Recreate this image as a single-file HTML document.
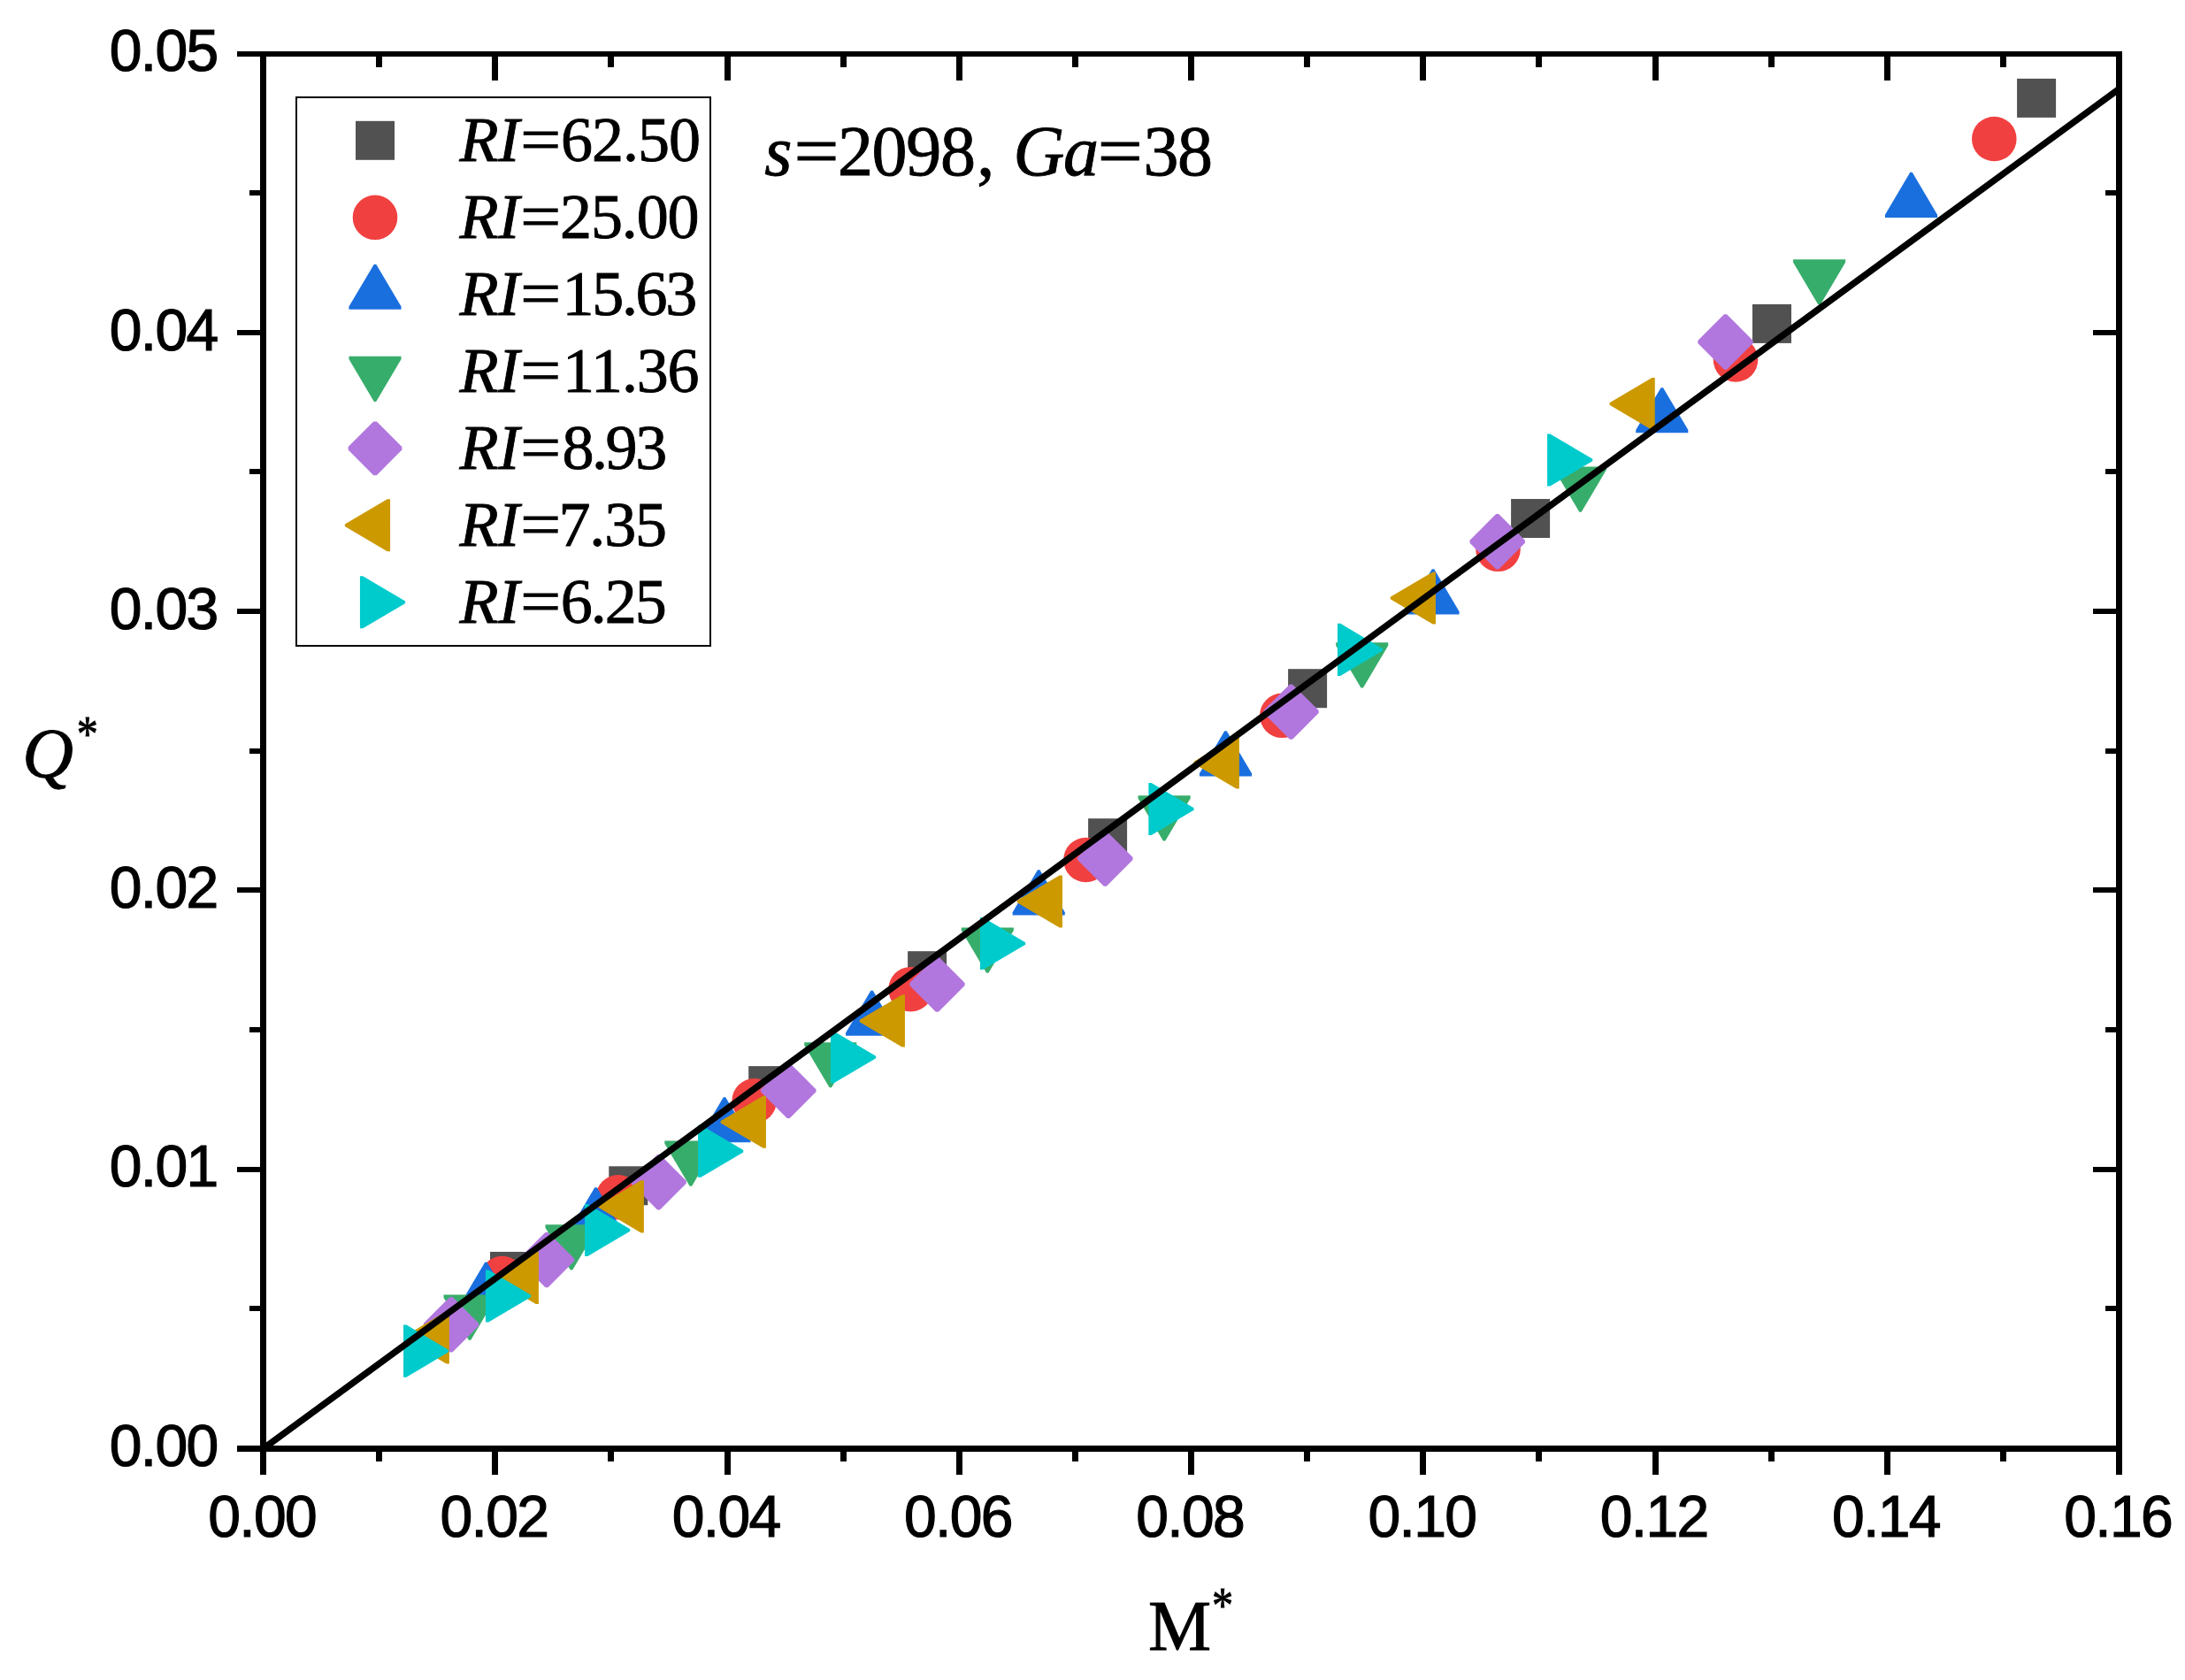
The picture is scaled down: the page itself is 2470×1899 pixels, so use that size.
<!DOCTYPE html>
<html lang="en"><head><meta charset="utf-8"><title>Q* versus M*</title>
<style>html,body{margin:0;padding:0;background:#fff}svg{display:block}.ax{font-family:"Liberation Sans",sans-serif;font-size:66px;fill:#000;letter-spacing:-1.7px;stroke:#000;stroke-width:1.2px}.se{font-family:"Liberation Serif",serif;fill:#000;stroke:#000;stroke-width:0.9px}.it{font-style:italic}</style></head><body>
<svg width="2470" height="1899" viewBox="0 0 2470 1899">
<rect width="2470" height="1899" fill="#fff"/>
<g shape-rendering="geometricPrecision">
<g><rect x="554" y="1415" width="44" height="44" fill="#515151"/><rect x="688.3" y="1318.3" width="44" height="44" fill="#515151"/><rect x="846.2" y="1205.1" width="44" height="44" fill="#515151"/><rect x="1026.1" y="1075.2" width="44" height="44" fill="#515151"/><rect x="1230.1" y="925.2" width="44" height="44" fill="#515151"/><rect x="1456.1" y="756.2" width="44" height="44" fill="#515151"/><rect x="1708.1" y="564" width="44" height="44" fill="#515151"/><rect x="1981" y="343.9" width="44" height="44" fill="#515151"/><rect x="2280.1" y="88.9" width="44" height="44" fill="#515151"/></g>
<g><circle cx="567.7" cy="1445.1" r="25.3" fill="#F14040"/><circle cx="698.8" cy="1353.3" r="25.3" fill="#F14040"/><circle cx="852.7" cy="1244.3" r="25.3" fill="#F14040"/><circle cx="1029.6" cy="1118.2" r="25.3" fill="#F14040"/><circle cx="1227.5" cy="972" r="25.3" fill="#F14040"/><circle cx="1449.4" cy="808.8" r="25.3" fill="#F14040"/><circle cx="1693.5" cy="620.8" r="25.3" fill="#F14040"/><circle cx="1962" cy="406.5" r="25.3" fill="#F14040"/><circle cx="2254.3" cy="157" r="25.3" fill="#F14040"/></g>
<g><polygon points="519.85,1478.05 519.85,1474.75 548.2,1426.85 550.6,1426.85 578.95,1474.75 578.95,1478.05" fill="#1A6FDF"/><polygon points="643.95,1393.45 643.95,1390.15 672.3,1342.25 674.7,1342.25 703.05,1390.15 703.05,1393.45" fill="#1A6FDF"/><polygon points="789.45,1291.35 789.45,1288.05 817.8,1240.15 820.2,1240.15 848.55,1288.05 848.55,1291.35" fill="#1A6FDF"/><polygon points="956.05,1170.85 956.05,1167.55 984.4,1119.65 986.8,1119.65 1015.15,1167.55 1015.15,1170.85" fill="#1A6FDF"/><polygon points="1144.65,1034.45 1144.65,1031.15 1173,983.25 1175.4,983.25 1203.75,1031.15 1203.75,1034.45" fill="#1A6FDF"/><polygon points="1355.95,877.55 1355.95,874.25 1384.3,826.35 1386.7,826.35 1415.05,874.25 1415.05,877.55" fill="#1A6FDF"/><polygon points="1590.45,694.55 1590.45,691.25 1618.8,643.35 1621.2,643.35 1649.55,691.25 1649.55,694.55" fill="#1A6FDF"/><polygon points="1849.25,489.35 1849.25,486.05 1877.6,438.15 1880,438.15 1908.35,486.05 1908.35,489.35" fill="#1A6FDF"/><polygon points="2130.95,245.95 2130.95,242.65 2159.3,194.75 2161.7,194.75 2190.05,242.65 2190.05,245.95" fill="#1A6FDF"/></g>
<g><polygon points="560.6,1463.45 560.6,1466.75 532.25,1514.65 529.85,1514.65 501.5,1466.75 501.5,1463.45" fill="#37AD6B"/><polygon points="675.55,1384.35 675.55,1387.65 647.2,1435.55 644.8,1435.55 616.45,1387.65 616.45,1384.35" fill="#37AD6B"/><polygon points="810.45,1289.55 810.45,1292.85 782.1,1340.75 779.7,1340.75 751.35,1292.85 751.35,1289.55" fill="#37AD6B"/><polygon points="968.35,1178.15 968.35,1181.45 940,1229.35 937.6,1229.35 909.25,1181.45 909.25,1178.15" fill="#37AD6B"/><polygon points="1145.85,1048.45 1145.85,1051.75 1117.5,1099.65 1115.1,1099.65 1086.75,1051.75 1086.75,1048.45" fill="#37AD6B"/><polygon points="1345.65,899.25 1345.65,902.55 1317.3,950.45 1314.9,950.45 1286.55,902.55 1286.55,899.25" fill="#37AD6B"/><polygon points="1569.25,726.35 1569.25,729.65 1540.9,777.55 1538.5,777.55 1510.15,729.65 1510.15,726.35" fill="#37AD6B"/><polygon points="1816.05,527.45 1816.05,530.75 1787.7,578.65 1785.3,578.65 1756.95,530.75 1756.95,527.45" fill="#37AD6B"/><polygon points="2086.15,293.25 2086.15,296.55 2057.8,344.45 2055.4,344.45 2027.05,296.55 2027.05,293.25" fill="#37AD6B"/></g>
<g><polygon points="508.5,1466.1 511.5,1466.1 541.2,1495.8 541.2,1498.8 511.5,1528.5 508.5,1528.5 478.8,1498.8 478.8,1495.8" fill="#B177DE"/><polygon points="616.5,1392.9 619.5,1392.9 649.2,1422.6 649.2,1425.6 619.5,1455.3 616.5,1455.3 586.8,1425.6 586.8,1422.6" fill="#B177DE"/><polygon points="743.1,1305.1 746.1,1305.1 775.8,1334.8 775.8,1337.8 746.1,1367.5 743.1,1367.5 713.4,1337.8 713.4,1334.8" fill="#B177DE"/><polygon points="889.7,1201.5 892.7,1201.5 922.4,1231.2 922.4,1234.2 892.7,1263.9 889.7,1263.9 860,1234.2 860,1231.2" fill="#B177DE"/><polygon points="1057.9,1081.3 1060.9,1081.3 1090.6,1111 1090.6,1114 1060.9,1143.7 1057.9,1143.7 1028.2,1114 1028.2,1111" fill="#B177DE"/><polygon points="1247.8,939.4 1250.8,939.4 1280.5,969.1 1280.5,972.1 1250.8,1001.8 1247.8,1001.8 1218.1,972.1 1218.1,969.1" fill="#B177DE"/><polygon points="1458,773.4 1461,773.4 1490.7,803.1 1490.7,806.1 1461,835.8 1458,835.8 1428.3,806.1 1428.3,803.1" fill="#B177DE"/><polygon points="1691.2,581.1 1694.2,581.1 1723.9,610.8 1723.9,613.8 1694.2,643.5 1691.2,643.5 1661.5,613.8 1661.5,610.8" fill="#B177DE"/><polygon points="1949,355.3 1952,355.3 1981.7,385 1981.7,388 1952,417.7 1949,417.7 1919.3,388 1919.3,385" fill="#B177DE"/></g>
<g><polygon points="507.85,1541.45 504.55,1541.45 456.65,1513.1 456.65,1510.7 504.55,1482.35 507.85,1482.35" fill="#CC9900"/><polygon points="608.95,1474.05 605.65,1474.05 557.75,1445.7 557.75,1443.3 605.65,1414.95 608.95,1414.95" fill="#CC9900"/><polygon points="727.85,1393.45 724.55,1393.45 676.65,1365.1 676.65,1362.7 724.55,1334.35 727.85,1334.35" fill="#CC9900"/><polygon points="865.95,1297.85 862.65,1297.85 814.75,1269.5 814.75,1267.1 862.65,1238.75 865.95,1238.75" fill="#CC9900"/><polygon points="1022.95,1183.55 1019.65,1183.55 971.75,1155.2 971.75,1152.8 1019.65,1124.45 1022.95,1124.45" fill="#CC9900"/><polygon points="1200.95,1048.55 1197.65,1048.55 1149.75,1020.2 1149.75,1017.8 1197.65,989.45 1200.95,989.45" fill="#CC9900"/><polygon points="1400.85,891.55 1397.55,891.55 1349.65,863.2 1349.65,860.8 1397.55,832.45 1400.85,832.45" fill="#CC9900"/><polygon points="1622.95,705.55 1619.65,705.55 1571.75,677.2 1571.75,674.8 1619.65,646.45 1622.95,646.45" fill="#CC9900"/><polygon points="1870.75,486.05 1867.45,486.05 1819.55,457.7 1819.55,455.3 1867.45,426.95 1870.75,426.95" fill="#CC9900"/></g>
<g><polygon points="456.05,1497.55 459.35,1497.55 507.25,1525.9 507.25,1528.3 459.35,1556.65 456.05,1556.65" fill="#00CBCC"/><polygon points="548.95,1435.45 552.25,1435.45 600.15,1463.8 600.15,1466.2 552.25,1494.55 548.95,1494.55" fill="#00CBCC"/><polygon points="661.05,1360.95 664.35,1360.95 712.25,1389.3 712.25,1391.7 664.35,1420.05 661.05,1420.05" fill="#00CBCC"/><polygon points="789.05,1271.65 792.35,1271.65 840.25,1300 840.25,1302.4 792.35,1330.75 789.05,1330.75" fill="#00CBCC"/><polygon points="938.95,1165.45 942.25,1165.45 990.15,1193.8 990.15,1196.2 942.25,1224.55 938.95,1224.55" fill="#00CBCC"/><polygon points="1107.95,1036.95 1111.25,1036.95 1159.15,1065.3 1159.15,1067.7 1111.25,1096.05 1107.95,1096.05" fill="#00CBCC"/><polygon points="1298.35,884.95 1301.65,884.95 1349.55,913.3 1349.55,915.7 1301.65,944.05 1298.35,944.05" fill="#00CBCC"/><polygon points="1511.95,704.85 1515.25,704.85 1563.15,733.2 1563.15,735.6 1515.25,763.95 1511.95,763.95" fill="#00CBCC"/><polygon points="1749.05,490.45 1752.35,490.45 1800.25,518.8 1800.25,521.2 1752.35,549.55 1749.05,549.55" fill="#00CBCC"/></g>
</g>
<line x1="297.5" y1="1637.5" x2="2395.5" y2="100.5" stroke="#000" stroke-width="7.4"/>
<path d="M294 58H2399V64H294ZM294 1634H2399V1641H294ZM294 58H301V1667H294ZM2392 58H2399V1667H2392ZM425 1637H432V1652H425ZM425 61H432V76H425ZM556 1637H563V1667H556ZM556 61H563V91H556ZM687 1637H694V1652H687ZM687 61H694V76H687ZM819 1637H826V1667H819ZM819 61H826V91H819ZM950 1637H957V1652H950ZM950 61H957V76H950ZM1081 1637H1088V1667H1081ZM1081 61H1088V91H1081ZM1212 1637H1219V1652H1212ZM1212 61H1219V76H1212ZM1343 1637H1350V1667H1343ZM1343 61H1350V91H1343ZM1474 1637H1481V1652H1474ZM1474 61H1481V76H1474ZM1605 1637H1612V1667H1605ZM1605 61H1612V91H1605ZM1736 1637H1743V1652H1736ZM1736 61H1743V76H1736ZM1868 1637H1875V1667H1868ZM1868 61H1875V91H1868ZM1999 1637H2006V1652H1999ZM1999 61H2006V76H1999ZM2130 1637H2137V1667H2130ZM2130 61H2137V91H2130ZM2261 1637H2268V1652H2261ZM2261 61H2268V76H2261ZM268 1634H297.5V1641H268ZM2366 1634H2395.5V1641H2366ZM282 1476H297.5V1482H282ZM2380 1476H2395.5V1482H2380ZM268 1319H297.5V1325H268ZM2366 1319H2395.5V1325H2366ZM282 1161H297.5V1167H282ZM2380 1161H2395.5V1167H2380ZM268 1003H297.5V1009H268ZM2366 1003H2395.5V1009H2366ZM282 846H297.5V852H282ZM2380 846H2395.5V852H2380ZM268 688H297.5V694H268ZM2366 688H2395.5V694H2366ZM282 530H297.5V536H282ZM2380 530H2395.5V536H2380ZM268 373H297.5V379H268ZM2366 373H2395.5V379H2366ZM282 215H297.5V221H282ZM2380 215H2395.5V221H2380ZM268 58H297.5V64H268ZM2366 58H2395.5V64H2366Z" fill="#000"/>
<text class="ax" x="296.1" y="1737.2" text-anchor="middle">0.00</text>
<text class="ax" x="558.35" y="1737.2" text-anchor="middle">0.02</text>
<text class="ax" x="820.6" y="1737.2" text-anchor="middle">0.04</text>
<text class="ax" x="1082.85" y="1737.2" text-anchor="middle">0.06</text>
<text class="ax" x="1345.1" y="1737.2" text-anchor="middle">0.08</text>
<text class="ax" x="1607.35" y="1737.2" text-anchor="middle">0.10</text>
<text class="ax" x="1869.6" y="1737.2" text-anchor="middle">0.12</text>
<text class="ax" x="2131.85" y="1737.2" text-anchor="middle">0.14</text>
<text class="ax" x="2394.1" y="1737.2" text-anchor="middle">0.16</text>
<text class="ax" x="245.5" y="1656.7" text-anchor="end">0.00</text>
<text class="ax" x="245.5" y="1341.4" text-anchor="end">0.01</text>
<text class="ax" x="245.5" y="1026.1" text-anchor="end">0.02</text>
<text class="ax" x="245.5" y="710.8" text-anchor="end">0.03</text>
<text class="ax" x="245.5" y="395.5" text-anchor="end">0.04</text>
<text class="ax" x="245.5" y="80.2" text-anchor="end">0.05</text>
<rect x="335" y="110" width="468" height="620" fill="#fff" fill-opacity="0" stroke="#000" stroke-width="2"/>
<rect x="402" y="136.8" width="44" height="44" fill="#515151"/>
<text class="se it" x="519.4" y="182" font-size="72">RI</text>
<text class="se" transform="translate(588.3 182) scale(1.13 1)" font-size="72">=</text>
<text class="se" x="634.1" y="182" font-size="72" letter-spacing="-1.05">62.50</text>
<circle cx="424" cy="245.8" r="25.3" fill="#F14040"/>
<text class="se it" x="519.4" y="269" font-size="72">RI</text>
<text class="se" transform="translate(588.3 269) scale(1.13 1)" font-size="72">=</text>
<text class="se" x="633.1" y="269" font-size="72" letter-spacing="-1.15">25.00</text>
<polygon points="394.45,349.85 394.45,346.55 422.8,298.65 425.2,298.65 453.55,346.55 453.55,349.85" fill="#1A6FDF"/>
<text class="se it" x="519.4" y="356" font-size="72">RI</text>
<text class="se" transform="translate(588.3 356) scale(1.13 1)" font-size="72">=</text>
<text class="se" x="635.6" y="356" font-size="72" letter-spacing="-2.35">15.63</text>
<polygon points="453.55,402.75 453.55,406.05 425.2,453.95 422.8,453.95 394.45,406.05 394.45,402.75" fill="#37AD6B"/>
<text class="se it" x="519.4" y="443" font-size="72">RI</text>
<text class="se" transform="translate(588.3 443) scale(1.13 1)" font-size="72">=</text>
<text class="se" x="635.9" y="443" font-size="72" letter-spacing="-1.15">11.36</text>
<polygon points="422.2,476.45 425.8,476.45 454.35,505 454.35,508.6 425.8,537.15 422.2,537.15 393.65,508.6 393.65,505" fill="#B177DE"/>
<text class="se it" x="519.4" y="530" font-size="72">RI</text>
<text class="se" transform="translate(588.3 530) scale(1.13 1)" font-size="72">=</text>
<text class="se" x="635.4" y="530" font-size="72" letter-spacing="-2.4">8.93</text>
<polygon points="441.05,623.35 437.75,623.35 389.85,595 389.85,592.6 437.75,564.25 441.05,564.25" fill="#CC9900"/>
<text class="se it" x="519.4" y="617" font-size="72">RI</text>
<text class="se" transform="translate(588.3 617) scale(1.13 1)" font-size="72">=</text>
<text class="se" x="631.5" y="617" font-size="72" letter-spacing="-1.15">7.35</text>
<polygon points="406.95,651.25 410.25,651.25 458.15,679.6 458.15,682 410.25,710.35 406.95,710.35" fill="#00CBCC"/>
<text class="se it" x="519.4" y="704" font-size="72">RI</text>
<text class="se" transform="translate(588.3 704) scale(1.13 1)" font-size="72">=</text>
<text class="se" x="633.8" y="704" font-size="72" letter-spacing="-2">6.25</text>
<text class="se it" x="864.3" y="198.4" font-size="80">s</text>
<text class="se" transform="translate(897.4 198.4) scale(1.13 1)" font-size="80">=</text>
<text class="se" x="946.9" y="198.4" font-size="80" letter-spacing="-1.3">2098</text>
<text class="se" x="1104.3" y="198.4" font-size="80">,</text>
<text class="se it" x="1145.6" y="198.4" font-size="80" letter-spacing="-1.3">Ga</text>
<text class="se" transform="translate(1240.8 198.4) scale(1.13 1)" font-size="80">=</text>
<text class="se" x="1292.4" y="198.4" font-size="80" letter-spacing="-1.5">38</text>
<text class="se it" x="25.2" y="878.5" font-size="80">Q</text>
<text class="se" transform="translate(86.8 849.1) scale(0.84 1)" font-size="57.5">*</text>
<text class="se" x="1298" y="1865" font-size="80">M</text>
<text class="se" transform="translate(1369.9 1833.8) scale(0.84 1)" font-size="57.5">*</text>
</svg></body></html>
